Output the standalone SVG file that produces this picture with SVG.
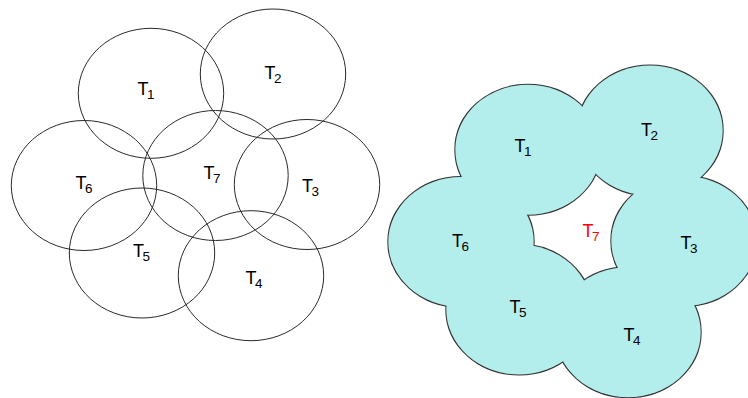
<svg xmlns="http://www.w3.org/2000/svg" width="748" height="398" viewBox="0 0 748 398">
  <style>
    .ring { fill: none; stroke: #2a2a2a; stroke-width: 1; }
    .edge { fill: none; stroke: #333; stroke-width: 2; }
    .area { fill: #b3eeec; stroke: none; }
    .lbl { font-family: "Liberation Sans", Arial, sans-serif; font-size: 18px; fill: #000; }
    .lbl tspan { font-size: 13.5px; }
    .red { fill: #ff0000; }
  </style>
  <defs>
    <ellipse id="e" cx="0" cy="0" rx="72.7" ry="65"/>
  </defs>
  <rect width="748" height="398" fill="#ffffff"/>

  <!-- Left: seven overlapping coverage regions -->
  <g id="left-regions">
    <g id="L1"><use href="#e" class="ring" x="151" y="93.3"/><text class="lbl" x="137.5" y="95">T<tspan dx="-1.5" dy="4">1</tspan></text></g>
    <g id="L2"><use href="#e" class="ring" x="273" y="74"/><text class="lbl" x="264.5" y="79">T<tspan dx="-1.5" dy="4">2</tspan></text></g>
    <g id="L7"><use href="#e" class="ring" x="215.5" y="175.5"/><text class="lbl" x="203.5" y="179">T<tspan dx="-1.5" dy="4">7</tspan></text></g>
    <g id="L6"><use href="#e" class="ring" x="84" y="185.5"/><text class="lbl" x="75.5" y="189">T<tspan dx="-1.5" dy="4">6</tspan></text></g>
    <g id="L3"><use href="#e" class="ring" x="307" y="184.5"/><text class="lbl" x="302" y="191.5">T<tspan dx="-1.5" dy="4">3</tspan></text></g>
    <g id="L5"><use href="#e" class="ring" x="142" y="253"/><text class="lbl" x="133" y="256.5">T<tspan dx="-1.5" dy="4">5</tspan></text></g>
    <g id="L4"><use href="#e" class="ring" x="251" y="275.7"/><text class="lbl" x="245.5" y="284">T<tspan dx="-1.5" dy="4">4</tspan></text></g>
  </g>

  <!-- Right: union of six regions, leaving the uncovered T7 hole -->
  <g id="right-union" transform="translate(377 56.5)">
    <g id="outline">
      <use href="#e" class="edge" x="151" y="93.3"/>
      <use href="#e" class="edge" x="273" y="74"/>
      <use href="#e" class="edge" x="84" y="185.5"/>
      <use href="#e" class="edge" x="307" y="184.5"/>
      <use href="#e" class="edge" x="142" y="253"/>
      <use href="#e" class="edge" x="251" y="275.7"/>
    </g>
    <g id="fill">
      <use href="#e" class="area" x="151" y="93.3"/>
      <use href="#e" class="area" x="273" y="74"/>
      <use href="#e" class="area" x="84" y="185.5"/>
      <use href="#e" class="area" x="307" y="184.5"/>
      <use href="#e" class="area" x="142" y="253"/>
      <use href="#e" class="area" x="251" y="275.7"/>
    </g>
  </g>
  <g id="right-labels">
    <g id="R1"><text class="lbl" x="514.5" y="151.5">T<tspan dx="-1.5" dy="4">1</tspan></text></g>
    <g id="R2"><text class="lbl" x="641" y="135.5">T<tspan dx="-1.5" dy="4">2</tspan></text></g>
    <g id="R7"><text class="lbl red" x="582.5" y="236.5">T<tspan dx="-1.5" dy="4">7</tspan></text></g>
    <g id="R6"><text class="lbl" x="452" y="246.5">T<tspan dx="-1.5" dy="4">6</tspan></text></g>
    <g id="R3"><text class="lbl" x="680.5" y="249">T<tspan dx="-1.5" dy="4">3</tspan></text></g>
    <g id="R5"><text class="lbl" x="509.5" y="313">T<tspan dx="-1.5" dy="4">5</tspan></text></g>
    <g id="R4"><text class="lbl" x="623.5" y="341">T<tspan dx="-1.5" dy="4">4</tspan></text></g>
  </g>
</svg>
